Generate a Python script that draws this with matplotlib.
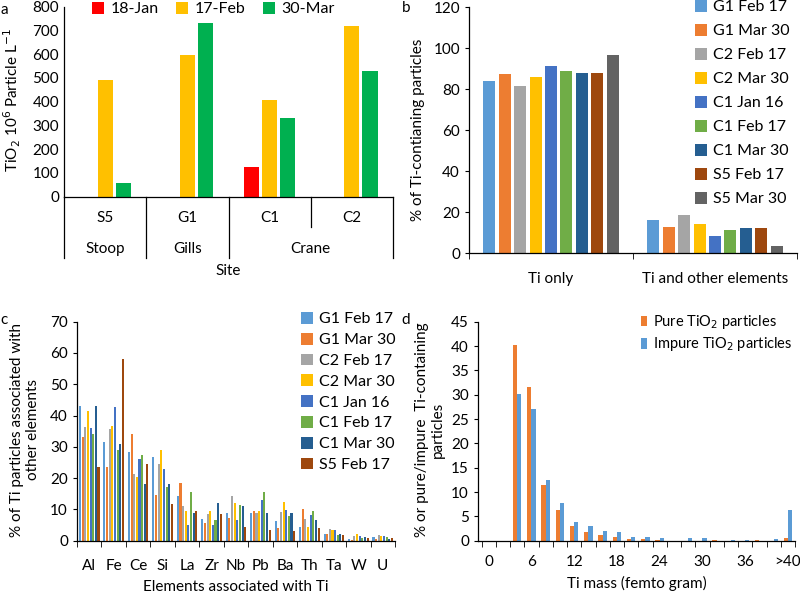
import matplotlib
matplotlib.use('Agg')
import matplotlib.pyplot as plt
import numpy as np

plt.rcParams['font.family'] = ['Lato', 'DejaVu Sans']
plt.rcParams['font.size'] = 11
plt.rcParams['axes.linewidth'] = 0.9

W, H = 800, 593

# ---- panel a data
sites = ['S5', 'G1', 'C1', 'C2']
areas = ['Stoop', 'Gills', 'Crane']
dates_a = ['18-Jan', '17-Feb', '30-Mar']
jan18 = [0, 0, 125, 0]
feb17 = [490, 597, 408, 718]
mar30 = [57, 733, 332, 528]
colors_a = ['#FF0000', '#FFC000', '#00B050']

# ---- panel b data
samples = ['G1 Feb 17', 'G1 Mar 30', 'C2 Feb 17', 'C2 Mar 30', 'C1 Jan 16',
           'C1 Feb 17', 'C1 Mar 30', 'S5 Feb 17', 'S5 Mar 30']
groups_b = ['Ti only', 'Ti and other elements']
ti_only = [84, 87.5, 81.5, 86, 91.5, 89, 88, 88, 96.5]
ti_other = [16, 12.5, 18.5, 14, 8.5, 11, 12, 12, 3.5]
colors_s = ['#5B9BD5', '#ED7D31', '#A5A5A5', '#FFC000', '#4472C4',
            '#70AD47', '#255E91', '#9E480E', '#636363']

# ---- panel c data
elements = ['Al', 'Fe', 'Ce', 'Si', 'La', 'Zr', 'Nb', 'Pb', 'Ba', 'Th', 'Ta', 'W', 'U']
g1_feb = [43, 31.6, 28.3, 26.8, 14.2, 7, 8.9, 9, 6.2, 4.5, 2.2, 0.5, 1.1]
g1_mar = [33, 23.4, 34.2, 14.5, 18.5, 5.8, 7.3, 9.5, 4.2, 10, 2.2, 0.3, 0.5]
c2_feb = [36.3, 35.8, 21.3, 24.5, 11.2, 8.5, 14.2, 9, 9.3, 6.8, 3.7, 1.5, 1.7]
c2_mar = [41.5, 36.6, 20.5, 29, 9.6, 9.4, 12, 9.4, 12.5, 4.4, 3.3, 2, 1.4]
c1_jan = [36, 42.6, 26.2, 23, 4.9, 4.9, 6.5, 13, 9.9, 8.2, 3.3, 1.5, 1.6]
c1_feb = [34, 29, 27.4, 17.2, 15.6, 6.7, 11.4, 15.6, 7.8, 9.4, 1.9, 0.8, 1.1]
c1_mar = [43, 31, 18, 18, 9, 12.1, 11.2, 9, 9, 6.7, 2.2, 1.2, 0.6]
s5_feb = [23.5, 58, 24.5, 11.6, 9.6, 8.5, 4.4, 3.4, 3.2, 4.1, 1.7, 0.8, 0.9]

# ---- panel d data
mass_bins = ['0', '2', '4', '6', '8', '10', '12', '14', '16', '18', '20', '22',
             '24', '26', '28', '30', '32', '34', '36', '38', '40', '>40']
pure = [0, 0, 40.2, 31.6, 11.5, 6.4, 3.1, 1.8, 1.1, 0.8, 0.4, 0.4, 0.2, 0, 0,
        0, 0.15, 0, 0, 0.1, 0, 0.6]
impure = [0, 0, 30.1, 27.1, 12.4, 7.7, 3.9, 3.1, 2.0, 1.8, 0.85, 0.85, 0.65, 0,
          0.65, 0.65, 0, 0.05, 0.05, 0, 0.25, 6.3]


def rect(l, t, r, b):
    return [l / W, 1 - b / H, (r - l) / W, (b - t) / H]


def px(x, y):
    return x / W, 1 - y / H


def style(ax):
    for s in ['top', 'right']:
        ax.spines[s].set_visible(False)
    ax.tick_params(axis='y', direction='out', length=3, width=0.8)


def legend_at(ax, x, y, **kw):
    # upper-left corner of the legend at pixel (x, y) of the figure
    return ax.legend(loc='upper left', bbox_to_anchor=(x / W, 1 - y / H, 0, 0),
                     bbox_transform=fig.transFigure, frameon=False,
                     borderaxespad=0, borderpad=0, handletextpad=0.4, **kw)


fig = plt.figure(figsize=(W / 100, H / 100), dpi=100)

# ================= a
ax = fig.add_axes(rect(64, 6.7, 393, 196.7))
style(ax)
x = np.arange(len(sites))
for i, (vals, lab) in enumerate(zip([jan18, feb17, mar30], dates_a)):
    ax.bar(x + (i - 1) * 0.22, vals, 0.185, color=colors_a[i], label=lab)
ax.set_xlim(-0.5, len(sites) - 0.5)
ax.set_ylim(0, 800)
ax.set_yticks(range(0, 801, 100))
ax.tick_params(axis='y', length=0)
ax.set_xticks([])
tr = ax.get_xaxis_transform()
for xb in [-0.5, 0.5, 1.5, 3.5]:
    ax.plot([xb, xb], [0, -0.32], transform=tr, color='black', lw=0.9, clip_on=False)
ax.plot([2.5, 2.5], [0, -0.158], transform=tr, color='black', lw=0.9, clip_on=False)
for xi, s in zip(x, sites):
    ax.text(xi, -0.112, s, transform=tr, ha='center', va='center')
for xc, a in zip([0, 1, 2.5], areas):
    ax.text(xc, -0.275, a, transform=tr, ha='center', va='center')
ax.text(1.5, -0.39, 'Site', transform=tr, ha='center', va='center')
legend_at(ax, 92, 2, ncol=3, handlelength=0.75, handleheight=0.75,
          columnspacing=1.1, fontsize=11.5)
fig.text(*px(12, 100), 'TiO$_2$ 10$^6$ Particle L$^{-1}$', rotation=90,
         ha='center', va='center')
fig.text(*px(4, 10), 'a', ha='center', va='center')

# ================= b
ax = fig.add_axes(rect(469, 7.3, 797, 253))
style(ax)
xb = np.arange(len(groups_b))
for i, s in enumerate(samples):
    ax.bar(xb + (i - 4) * 0.094, [ti_only[i], ti_other[i]], 0.074,
           color=colors_s[i], label=s)
ax.set_xlim(-0.5, 1.5)
ax.set_ylim(0, 120)
ax.set_yticks(range(0, 121, 20))
ax.set_xticks(xb)
ax.set_xticklabels(groups_b)
ax.set_xticks([-0.5, 0.5, 1.5], minor=True)
ax.tick_params(axis='x', which='major', length=0, pad=14)
ax.tick_params(axis='x', which='minor', length=4, direction='out')
legend_at(ax, 695, 0, handlelength=0.75, handleheight=0.75,
          labelspacing=0.6, fontsize=11.5)
fig.text(*px(418, 130), '% of Ti-contianing particles', rotation=90,
         ha='center', va='center')
fig.text(*px(406, 8), 'b', ha='center', va='center')

# ================= c
ax = fig.add_axes(rect(77, 321.7, 395, 540.7))
style(ax)
xc = np.arange(len(elements))
series_c = [g1_feb, g1_mar, c2_feb, c2_mar, c1_jan, c1_feb, c1_mar, s5_feb]
for i, vals in enumerate(series_c):
    ax.bar(xc + (i - 3.5) * 0.108, vals, 0.085, color=colors_s[i], label=samples[i])
ax.set_xlim(-0.5, len(elements) - 0.5)
ax.set_ylim(0, 70)
ax.set_yticks(range(0, 71, 10))
ax.set_xticks(xc)
ax.set_xticklabels(elements)
ax.set_xticks(np.arange(-0.5, len(elements), 1), minor=True)
ax.tick_params(axis='x', which='major', length=0, pad=13)
ax.tick_params(axis='x', which='minor', length=4, direction='out')
ax.set_xlabel('Elements associated with Ti', labelpad=5)
legend_at(ax, 301, 312, handlelength=0.75, handleheight=0.75,
          labelspacing=0.4, fontsize=11.5)
fig.text(*px(25, 430), '% of Ti particles associated with\nother elements', rotation=90,
         ha='center', va='center', linespacing=1.15)
fig.text(*px(4, 320), 'c', ha='center', va='center')

# ================= d
ax = fig.add_axes(rect(478, 321.7, 795, 540.7))
style(ax)
xd = np.arange(len(mass_bins))
ax.bar(xd - 0.15, pure, 0.3, color='#ED7D31', label='Pure TiO$_2$ particles')
ax.bar(xd + 0.15, impure, 0.3, color='#5B9BD5', label='Impure TiO$_2$ particles')
ax.set_xlim(-0.75, len(mass_bins) - 0.5)
ax.set_ylim(0, 45)
ax.set_yticks(range(0, 46, 5))
ax.set_xticks(xd[::3])
ax.set_xticklabels(mass_bins[::3])
ax.set_xticks(np.arange(-0.5, len(mass_bins), 1), minor=True)
ax.tick_params(axis='x', which='major', length=0, pad=10)
ax.tick_params(axis='x', which='minor', length=4, direction='out')
ax.set_xlabel('Ti mass (femto gram)', labelpad=5)
legend_at(ax, 641, 313, handlelength=0.4, handleheight=0.75,
          labelspacing=0.3, fontsize=10.5)
fig.text(*px(430, 430), '% or pure/impure  Ti-containing\nparticles', rotation=90,
         ha='center', va='center', linespacing=1.15)
fig.text(*px(406, 320), 'd', ha='center', va='center')

fig.savefig('out.png', dpi=100, facecolor='w')
